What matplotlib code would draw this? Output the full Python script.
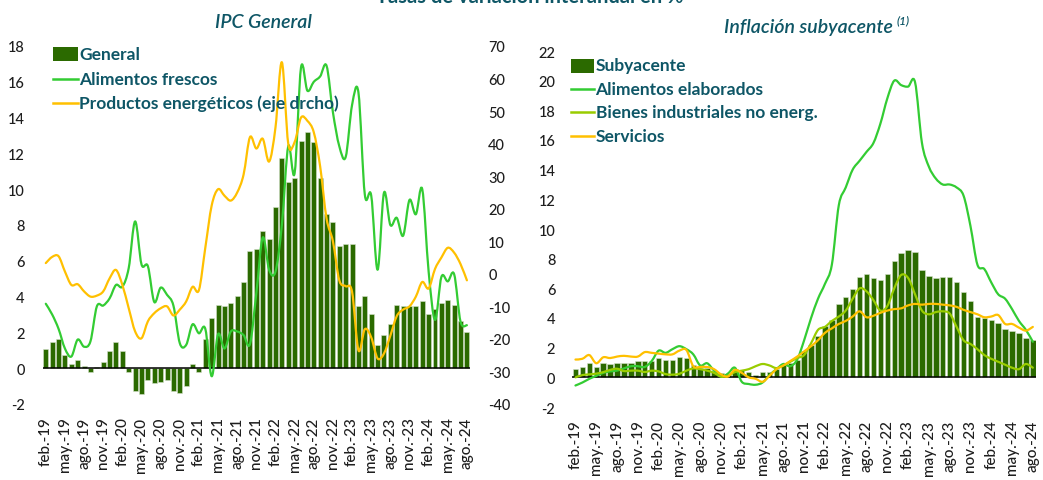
import matplotlib
matplotlib.use('Agg')
import matplotlib.pyplot as plt
from matplotlib.path import Path
from matplotlib.patches import PathPatch, Rectangle
from matplotlib.lines import Line2D
import numpy as np

plt.rcParams['font.family'] = ['Lato', 'DejaVu Sans']
plt.rcParams['axes.unicode_minus'] = False

# ---------------- DATA ----------------
tick_labels = ['feb.-19', 'may.-19', 'ago.-19', 'nov.-19', 'feb.-20', 'may.-20', 'ago.-20', 'nov.-20',
               'feb.-21', 'may.-21', 'ago.-21', 'nov.-21', 'feb.-22', 'may.-22', 'ago.-22', 'nov.-22',
               'feb.-23', 'may.-23', 'ago.-23', 'nov.-23', 'feb.-24', 'may.-24', 'ago.-24']

# IPC General (left panel)
general = [1.1, 1.45, 1.64, 0.74, 0.26, 0.45, 0.15, -0.24, 0.05, 0.37,
           0.95, 1.45, 0.97, -0.24, -1.27, -1.45, -0.65, -0.84, -0.75, -0.65,
           -1.27, -1.39, -0.97, 0.24, -0.24, 1.64, 2.83, 3.54, 3.45, 3.65,
           4.04, 4.84, 6.55, 6.65, 7.64, 7.23, 9.03, 11.73, 10.43, 10.61,
           12.72, 13.22, 12.63, 10.61, 8.62, 8.14, 6.85, 6.95, 6.95, 3.45,
           4.06, 3.04, 1.27, 1.86, 2.48, 3.54, 3.45, 3.45, 3.45, 3.76,
           3.04, 3.32, 3.63, 3.82, 3.54, 2.61, 2.05]
frescos = [3.6, 3.0, 2.2, 1.1, 0.65, 1.6, 1.2, 1.5, 3.45, 3.5,
           3.9, 4.65, 4.55, 5.6, 8.2, 5.8, 5.7, 3.7, 4.5, 4.1,
           3.5, 1.4, 1.3, 2.45, 1.95, 2.2, -0.45, 1.9, 1.1, 2.05,
           2.05, 1.85, 1.35, 4.2, 7.3, 5.5, 5.4, 8.0, 12.4, 10.9,
           16.8, 15.5, 16.0, 16.3, 16.9, 14.3, 12.4, 11.8, 14.7, 15.4,
           9.7, 9.65, 5.5, 9.8, 8.0, 8.4, 7.4, 9.4, 8.6, 10.0,
           5.4, 2.7, 5.1, 4.85, 5.25, 2.6, 2.4]
energia = [3.3, 5.2, 5.4, 0.7, -3.4, -3.2, -5.4, -7.0, -6.7, -5.4,
           -1.4, 1.2, -3.4, -10.6, -17.7, -19.8, -14.6, -12.1, -10.6, -10.0,
           -12.8, -11.0, -8.5, -4.0, -5.0, 8.0, 21.0, 26.0, 24.0, 22.5,
           25.0, 30.5, 42.0, 38.5, 41.5, 34.5, 45.0, 65.0, 40.0, 40.5,
           48.0, 47.0, 43.5, 33.0, 17.0, 10.0, -2.0, -3.8, -5.5, -23.5,
           -17.0, -19.5, -26.0, -24.5, -19.0, -13.0, -11.0, -10.0, -7.0, -2.5,
           -4.5, 1.5, 5.0, 8.0, 6.5, 3.0, -2.0]

# Inflacion subyacente (right panel)
subyacente = [0.56, 0.67, 0.96, 0.67, 0.96, 0.87, 0.96, 0.96, 0.98, 1.1,
              1.1, 1.1, 1.28, 1.15, 1.15, 1.35, 1.28, 0.83, 0.6, 0.6,
              0.45, 0.3, 0.25, 0.55, 0.5, 0.36, 0.13, 0.36, 0.36, 0.58,
              0.85, 0.97, 1.2, 1.78, 2.19, 2.8, 3.47, 3.88, 4.94, 5.39,
              5.96, 6.74, 6.94, 6.67, 6.58, 6.94, 7.86, 8.36, 8.56, 8.47,
              7.25, 6.85, 6.67, 6.74, 6.74, 6.45, 5.73, 5.17, 4.09, 3.98,
              3.87, 3.66, 3.26, 3.15, 2.97, 2.68, 2.54]
elaborados = [-0.55, -0.35, -0.1, 0.1, 0.3, 0.4, 0.45, 0.6, 0.75, 0.75,
              0.7, 1.1, 1.8, 1.65, 1.9, 2.1, 1.9, 1.55, 0.8, 0.95,
              0.45, 0.05, 0.25, 0.65, -0.3, -0.45, -0.5, -0.35, 0.15, 0.55,
              0.9, 0.75, 1.2, 2.5, 4.0, 5.3, 6.3, 7.6, 11.6, 12.8,
              14.0, 14.6, 15.2, 15.8, 17.1, 18.8, 20.0, 19.7, 19.6, 19.9,
              15.8, 14.2, 13.4, 13.0, 13.0, 12.8, 12.25, 10.2, 7.6, 7.3,
              6.4, 5.6, 5.3, 4.6, 3.8, 3.2, 2.4]
bienes = [0.0, 0.15, 0.2, 0.25, 0.35, 0.5, 0.58, 0.42, 0.45, 0.45,
          0.36, 0.45, 0.4, 0.22, 0.18, 0.24, 0.45, 0.6, 0.55, 0.45,
          0.3, 0.05, 0.1, 0.35, 0.45, 0.55, 0.75, 0.9, 0.8, 0.62,
          0.8, 1.05, 1.3, 1.5, 2.3, 3.2, 3.4, 3.8, 4.1, 4.5,
          5.3, 6.0, 5.8, 5.2, 4.5, 4.8, 6.0, 6.9, 6.7, 5.6,
          4.5, 4.25, 4.4, 4.45, 4.3, 3.4, 2.5, 2.25, 1.9, 1.5,
          1.25, 1.05, 0.85, 0.65, 0.55, 0.9, 0.65]
servicios = [1.2, 1.25, 1.5, 0.95, 1.35, 1.3, 1.4, 1.45, 1.4, 1.4,
             1.7, 1.65, 1.6, 1.55, 1.55, 1.8, 1.85, 0.75, 0.7, 0.7,
             0.55, 0.2, 0.05, 0.5, 0.3, 0.0, -0.1, -0.3, 0.1, 0.55,
             0.8, 1.1, 1.4, 1.75, 2.1, 2.5, 3.0, 3.3, 3.6, 3.8,
             4.1, 4.45, 4.05, 4.15, 4.35, 4.5, 4.6, 4.65, 4.85, 4.95,
             4.9, 4.95, 4.95, 4.9, 4.85, 4.75, 4.55, 4.4, 4.25, 4.05,
             4.1, 4.2, 3.6, 3.6, 3.35, 3.15, 3.4]

# ---------------- STYLE ----------------
BAR = '#2B6A00'
GREEN = '#33CC33'
YELLOW = '#FFC000'
LIME = '#99CC00'
TEAL = '#0E5666'
TICK = '#1e1e1e'

W, H = 1043, 481
fig = plt.figure(figsize=(W / 100, H / 100), dpi=100)


def fx(px):
    return px / W


def fy(py):
    return 1 - py / H


def smooth_line(ax, xs, ys, color, lw=1.6, z=4):
    xs = np.asarray(xs, float)
    ys = np.asarray(ys, float)
    n = len(xs)
    pts = np.column_stack([xs, ys])
    verts = [pts[0]]
    codes = [Path.MOVETO]
    for i in range(n - 1):
        p0 = pts[i - 1] if i > 0 else pts[i]
        p1 = pts[i]
        p2 = pts[i + 1]
        p3 = pts[i + 2] if i + 2 < n else pts[i + 1]
        c1 = p1 + (p2 - p0) / 6.0
        c2 = p2 - (p3 - p1) / 6.0
        verts += [c1, c2, p2]
        codes += [Path.CURVE4] * 3
    ax.add_patch(PathPatch(Path(verts, codes), facecolor='none', edgecolor=color,
                           lw=lw, zorder=z, capstyle='round', joinstyle='round'))


def style_axis(ax):
    for s in ax.spines.values():
        s.set_visible(False)


def weight_ticks(ax):
    for lab in ax.get_xticklabels() + ax.get_yticklabels():
        lab.set_fontweight('medium')


# ---------------- LEFT PANEL ----------------
x = np.arange(len(general))
ax1 = fig.add_axes([fx(42.6), fy(405), (470.1 - 42.6) / W, (405 - 47) / H])
ax1.set_xlim(-0.5, len(general) - 0.5)
ax1.set_ylim(-2, 18)
ax1.bar(x, general, width=0.78, color=BAR, edgecolor='#d5e2cc', linewidth=0.4, zorder=2)
ax1.axhline(0, color='black', lw=1.1, zorder=3)
smooth_line(ax1, x, frescos, GREEN)
ax1.set_yticks(range(-2, 19, 2))
ax1.set_xticks(range(0, len(general), 3))
ax1.set_xticklabels(tick_labels, rotation=90)
ax1.tick_params(axis='y', length=0, pad=13, labelsize=10.5, labelcolor=TICK)
ax1.tick_params(axis='x', length=0, pad=9, labelsize=11, labelcolor=TICK)
style_axis(ax1)
weight_ticks(ax1)

ax2 = ax1.twinx()
ax2.set_ylim(-40, 70)
ax2.set_yticks(range(-40, 71, 10))
smooth_line(ax2, x, energia, YELLOW)
ax2.tick_params(axis='y', length=0, pad=13, labelsize=10.5, labelcolor=TICK)
style_axis(ax2)
weight_ticks(ax2)

# ---------------- RIGHT PANEL ----------------
x2 = np.arange(len(subyacente))
ax3 = fig.add_axes([fx(572), fy(408), (1036.3 - 572) / W, (408 - 52) / H])
ax3.set_xlim(-0.5, len(subyacente) - 0.5)
ax3.set_ylim(-2, 22)
ax3.bar(x2, subyacente, width=0.78, color=BAR, edgecolor='#d5e2cc', linewidth=0.4, zorder=2)
ax3.axhline(0, color='black', lw=1.1, zorder=3)
smooth_line(ax3, x2, elaborados, GREEN)
smooth_line(ax3, x2, bienes, LIME)
smooth_line(ax3, x2, servicios, YELLOW)
ax3.set_yticks(range(-2, 23, 2))
ax3.set_xticks(range(0, len(subyacente), 3))
ax3.set_xticklabels(tick_labels, rotation=90)
ax3.tick_params(axis='y', length=0, pad=12, labelsize=10.5, labelcolor=TICK)
ax3.tick_params(axis='x', length=0, pad=9, labelsize=11, labelcolor=TICK)
style_axis(ax3)
weight_ticks(ax3)

# ---------------- TITLES ----------------
fig.text(fx(530), fy(3), 'Tasas de variación interanual en %', ha='center', va='baseline',
         fontsize=14.5, fontweight='bold', color=TEAL)
fig.text(fx(263), fy(22), 'IPC General', ha='center', va='center', fontsize=14,
         style='italic', fontweight='semibold', color=TEAL)
fig.text(fx(893), fy(27), 'Inflación subyacente', ha='right', va='center', fontsize=14,
         style='italic', fontweight='semibold', color=TEAL)
fig.text(fx(897), fy(21), '(1)', ha='left', va='center', fontsize=8.5,
         style='italic', fontweight='semibold', color=TEAL)

# ---------------- LEGENDS ----------------
def legend_entries(x0, x1, xt, entries):
    for kind, color, label, yc in entries:
        if kind == 'bar':
            fig.add_artist(Rectangle((fx(x0), fy(yc + 7)), (x1 - x0) / W, 14 / H,
                                     transform=fig.transFigure, facecolor=BAR, edgecolor='none'))
        else:
            fig.add_artist(Line2D([fx(x0), fx(x1)], [fy(yc), fy(yc)], transform=fig.transFigure,
                                  color=color, lw=1.8))
        fig.text(fx(xt), fy(yc), label, ha='left', va='center', fontsize=12.5,
                 fontweight='bold', color=TEAL)


legend_entries(53, 78, 79, [
    ('bar', BAR, 'General', 55),
    ('line', GREEN, 'Alimentos frescos', 80),
    ('line', YELLOW, 'Productos energéticos (eje drcho)', 104),
])
legend_entries(571, 594, 595.5, [
    ('bar', BAR, 'Subyacente', 66.5),
    ('line', GREEN, 'Alimentos elaborados', 90),
    ('line', LIME, 'Bienes industriales no energ.', 113),
    ('line', YELLOW, 'Servicios', 136.5),
])

fig.savefig('out.png', dpi=100)
